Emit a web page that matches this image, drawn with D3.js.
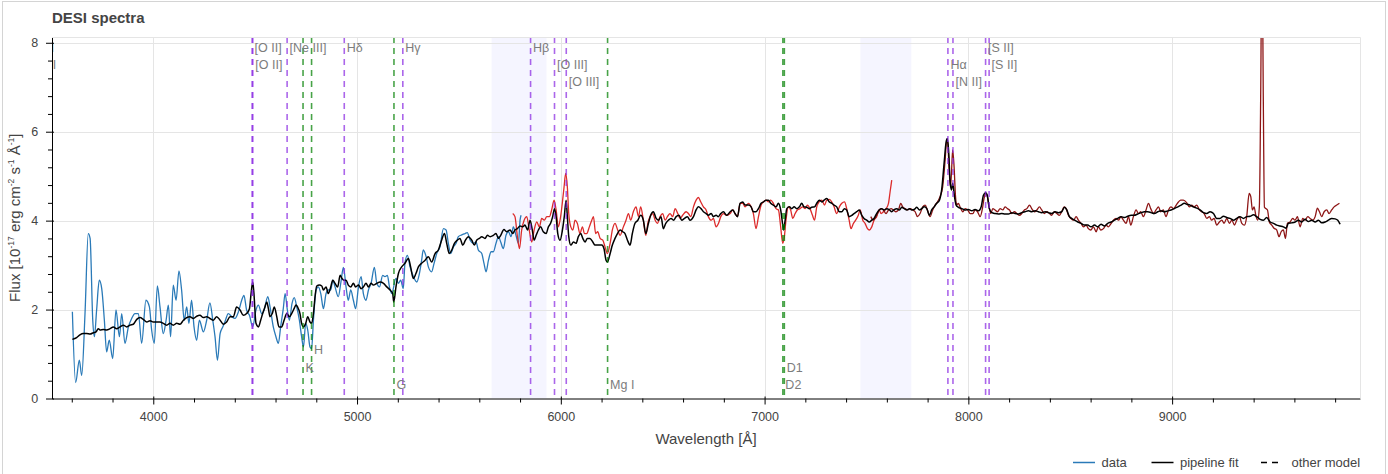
<!DOCTYPE html>
<html><head><meta charset="utf-8">
<script src="https://cdn.jsdelivr.net/npm/d3@7"></script>
<style>
body{margin:0;background:#fff;}
svg{display:block;font-family:Helvetica,Arial,"Liberation Sans",sans-serif;}
</style>
</head><body>
<svg id="chart" width="1388" height="474"></svg>
<script>
// ---------------- DATA ----------------
const titleText = "DESI spectra";
const xLabelText = "Wavelength [Å]";
const xDomain = [3503, 9922];
const yDomain = [0, 8.13];
const xMajor = [4000, 5000, 6000, 7000, 8000, 9000];
const xMinor = [3600,3800,4200,4400,4600,4800,5200,5400,5600,5800,6200,6400,6600,6800,7200,7400,7600,7800,8200,8400,8600,8800,9200,9400,9600,9800];
const yMajor = [0, 2, 4, 6, 8];
const yMinor = [0.4,0.8,1.2,1.6,2.4,2.8,3.2,3.6,4.4,4.8,5.2,5.6,6.4,6.8,7.2,7.6];
const redshift = 0.2037;
const bandStart = [5660, 7470];
const bandEnd = [5930, 7720];
const legendNames = ["data", "pipeline fit", "other model"];

// spectral lines: name, rest wavelength, kind (em/abs), label row
const lineNames = ["Mg II","Mg II","[O II]","[O II]","[Ne III]","K","H","Hδ","G","Hγ","Hβ","[O III]","[O III]","Mg I","D2","D1","Hα","[N II]","[S II]","[S II]"];
const lineRest  = [2796.35,2803.53,3726.03,3728.82,3868.76,3933.66,3968.47,4101.73,4304.4,4340.46,4861.33,4958.91,5006.84,5175.3,5889.95,5895.92,6562.80,6583.45,6716.44,6730.82];
const lineKind  = ["em","em","em","em","em","abs","abs","em","abs","em","em","em","em","abs","abs","abs","em","em","em","em"];
const lineRow   = [1,2,1,2,1,2,1,1,3,1,1,2,3,3,3,2,2,3,1,2];

// b arm data [wavelength, flux]
const bData = [[3603,1.95],[3619,0.36],[3637,0.86],[3649,0.52],[3665,1.91],[3681,3.71],[3690,3.60],[3703,1.76],[3711,1.39],[3722,1.99],[3735,2.66],[3747,2.47],[3760,1.76],[3771,1.05],[3784,1.31],[3801,0.90],[3817,1.99],[3834,1.39],[3845,1.91],[3861,1.24],[3878,1.61],[3894,1.80],[3910,1.91],[3927,1.91],[3943,1.24],[3964,2.21],[3981,2.06],[3992,1.54],[4005,1.24],[4020,2.53],[4033,2.06],[4049,1.46],[4063,1.76],[4074,2.10],[4085,1.39],[4098,2.55],[4112,2.21],[4126,2.87],[4139,2.44],[4152,1.76],[4164,2.06],[4175,1.69],[4188,2.21],[4200,1.61],[4213,1.31],[4226,1.76],[4246,1.50],[4262,1.76],[4278,2.15],[4292,1.76],[4303,1.39],[4315,0.86],[4328,1.46],[4341,1.61],[4352,1.73],[4368,1.91],[4385,1.84],[4401,1.80],[4418,1.95],[4434,2.21],[4445,2.32],[4458,1.99],[4472,1.87],[4488,1.61],[4504,1.99],[4516,2.10],[4532,1.91],[4544,1.99],[4562,2.29],[4573,2.06],[4589,1.61],[4602,1.39],[4614,1.24],[4625,1.61],[4638,2.02],[4647,2.36],[4658,1.99],[4668,1.76],[4681,2.14],[4692,2.27],[4704,2.06],[4717,1.76],[4728,1.39],[4737,1.16],[4748,1.69],[4758,1.54],[4769,1.16],[4777,1.12],[4786,1.76],[4799,2.44],[4810,2.51],[4822,2.36],[4835,2.02],[4848,2.36],[4859,2.44],[4871,2.44],[4881,2.66],[4892,2.51],[4908,2.29],[4921,2.62],[4933,2.95],[4946,2.51],[4957,2.21],[4969,2.44],[4982,2.21],[4993,2.02],[5007,2.51],[5020,2.74],[5031,2.36],[5044,2.21],[5056,2.44],[5069,2.59],[5085,2.95],[5097,2.59],[5110,2.51],[5126,2.77],[5137,2.74],[5149,2.77],[5159,2.51],[5170,2.36],[5191,2.70],[5203,2.59],[5214,2.66],[5227,2.47],[5235,3.04],[5247,3.22],[5260,2.96],[5277,2.74],[5293,2.62],[5306,2.81],[5317,3.11],[5325,3.34],[5339,3.19],[5350,2.96],[5366,2.85],[5378,3.04],[5391,3.26],[5407,3.41],[5424,3.82],[5437,3.79],[5448,3.49],[5460,3.26],[5473,3.41],[5486,3.49],[5497,3.64],[5514,3.68],[5530,3.71],[5541,3.73],[5555,3.56],[5571,3.49],[5584,3.52],[5595,3.34],[5612,3.26],[5623,3.04],[5633,2.85],[5645,3.11],[5658,3.30],[5669,3.30],[5682,3.49],[5694,3.64],[5705,3.52],[5718,3.37],[5731,3.67],[5743,3.75],[5756,3.64],[5767,3.86],[5780,3.67],[5792,3.49],[5800,4.01],[5805,4.12]];

// r arm data
const rData = [[5764,4.16],[5775,4.09],[5787,3.64],[5797,3.37],[5808,3.79],[5820,4.01],[5833,4.09],[5844,3.82],[5857,3.52],[5869,3.79],[5882,3.97],[5895,3.86],[5906,4.05],[5919,4.01],[5931,4.09],[5944,4.09],[5955,4.24],[5967,4.46],[5977,4.24],[5988,3.86],[5999,4.09],[6009,4.46],[6016,4.76],[6024,5.06],[6032,4.76],[6039,4.16],[6049,3.86],[6059,3.79],[6070,4.01],[6081,3.94],[6094,3.71],[6106,3.86],[6116,3.71],[6127,3.71],[6140,3.86],[6152,4.01],[6160,4.09],[6171,3.71],[6181,3.75],[6193,3.60],[6206,3.56],[6217,3.41],[6229,3.26],[6242,3.49],[6253,3.79],[6266,3.94],[6279,3.79],[6291,3.67],[6307,3.86],[6320,4.01],[6332,4.16],[6343,4.01],[6356,4.20],[6369,4.31],[6381,4.09],[6392,4.31],[6405,4.01],[6417,3.67],[6427,3.94],[6438,4.09],[6451,4.16],[6463,4.01],[6474,3.94],[6487,4.09],[6500,4.16],[6512,4.01],[6523,4.09],[6536,4.16],[6549,4.09],[6561,4.27],[6574,4.16],[6585,4.05],[6598,4.12],[6615,4.20],[6626,4.16],[6638,4.09],[6651,4.31],[6664,4.46],[6675,4.52],[6687,4.42],[6700,4.31],[6713,4.24],[6724,4.09],[6738,4.01],[6749,4.05],[6762,3.86],[6774,3.94],[6785,4.09],[6798,4.16],[6814,4.12],[6831,4.16],[6844,4.24],[6855,4.16],[6867,4.09],[6880,4.39],[6893,4.39],[6904,4.31],[6921,4.39],[6934,4.31],[6945,4.16],[6958,3.82],[6970,4.09],[6983,4.35],[6994,4.42],[7007,4.46],[7019,4.42],[7030,4.46],[7043,4.39],[7056,4.27],[7068,4.24],[7079,3.86],[7089,3.49],[7097,3.64],[7105,4.01],[7117,4.31],[7128,4.24],[7138,4.05],[7150,4.16],[7161,4.24],[7174,4.27],[7187,4.31],[7199,4.27],[7210,4.35],[7223,4.27],[7235,4.12],[7245,4.01],[7256,4.31],[7267,4.42],[7281,4.46],[7294,4.35],[7305,4.46],[7318,4.48],[7330,4.42],[7341,4.31],[7354,4.16],[7367,4.31],[7379,4.39],[7392,4.42],[7403,4.27],[7415,4.01],[7424,3.82],[7436,3.94],[7447,4.01],[7460,4.12],[7469,4.24],[7482,4.01],[7493,3.94],[7505,3.82],[7514,3.79],[7526,3.86],[7537,4.01],[7550,4.09],[7562,4.24],[7572,4.16],[7583,4.20],[7596,4.27],[7608,4.39],[7616,4.65],[7624,4.91]];

// z arm data
const zData = [[7521,4.09],[7534,4.01],[7547,4.09],[7559,4.20],[7570,4.27],[7583,4.24],[7596,4.16],[7608,4.24],[7621,4.27],[7632,4.24],[7645,4.20],[7657,4.24],[7668,4.39],[7678,4.31],[7690,4.27],[7703,4.24],[7714,4.27],[7727,4.24],[7739,4.20],[7750,4.09],[7763,4.16],[7776,4.31],[7788,4.35],[7799,4.24],[7812,4.09],[7825,4.24],[7837,4.35],[7848,4.42],[7861,4.54],[7874,4.76],[7886,5.36],[7894,5.81],[7899,5.74],[7905,5.21],[7912,4.76],[7917,5.06],[7923,5.59],[7930,5.21],[7937,4.54],[7943,4.35],[7951,4.39],[7959,4.31],[7973,4.20],[7984,4.27],[7997,4.24],[8009,4.16],[8022,4.16],[8033,4.24],[8045,4.20],[8058,4.09],[8069,4.27],[8077,4.50],[8085,4.61],[8093,4.54],[8102,4.31],[8110,4.16],[8120,4.27],[8131,4.24],[8143,4.20],[8156,4.27],[8169,4.24],[8180,4.31],[8192,4.27],[8202,4.24],[8213,4.16],[8226,4.20],[8238,4.16],[8251,4.12],[8262,4.16],[8275,4.24],[8287,4.27],[8300,4.35],[8311,4.27],[8324,4.20],[8336,4.24],[8349,4.31],[8360,4.24],[8373,4.16],[8385,4.20],[8398,4.16],[8409,4.12],[8422,4.20],[8434,4.16],[8447,4.12],[8458,4.20],[8470,4.31],[8480,4.27],[8491,4.12],[8503,4.05],[8516,4.01],[8529,4.09],[8540,4.01],[8553,3.94],[8565,3.86],[8578,3.90],[8589,3.82],[8601,3.79],[8614,3.86],[8627,3.75],[8638,3.86],[8650,3.79],[8663,3.82],[8676,3.90],[8687,3.86],[8701,3.94],[8712,4.01],[8725,4.05],[8737,4.01],[8748,4.09],[8761,4.01],[8774,3.94],[8786,4.09],[8797,3.90],[8810,4.09],[8823,4.24],[8835,4.16],[8846,4.20],[8859,4.09],[8872,4.24],[8884,4.39],[8895,4.27],[8908,4.16],[8921,4.24],[8933,4.31],[8944,4.20],[8957,4.24],[8970,4.09],[8982,4.24],[8994,4.31],[9007,4.27],[9020,4.35],[9031,4.42],[9042,4.46],[9055,4.46],[9072,4.40],[9085,4.31],[9096,4.35],[9108,4.31],[9121,4.35],[9134,4.24],[9145,4.20],[9157,4.16],[9170,4.05],[9183,4.09],[9194,4.01],[9206,4.05],[9219,3.90],[9232,3.97],[9244,4.01],[9255,3.94],[9268,4.05],[9281,3.94],[9293,4.01],[9306,3.90],[9317,4.01],[9330,4.09],[9342,3.94],[9355,3.90],[9366,4.09],[9378,4.61],[9386,4.54],[9394,4.24],[9402,4.31],[9412,4.09],[9420,4.01],[9428,4.31],[9435,7.01],[9441,10.5],[9447,7.0],[9453,4.3],[9468,4.24],[9477,3.97],[9489,3.90],[9500,3.83],[9513,3.79],[9525,3.64],[9535,3.75],[9546,3.79],[9556,3.60],[9566,3.94],[9579,3.97],[9592,4.05],[9603,4.01],[9615,4.09],[9628,3.86],[9641,4.05],[9652,4.01],[9666,4.09],[9677,4.05],[9690,4.01],[9702,4.09],[9713,4.28],[9723,4.20],[9734,4.09],[9746,4.20],[9759,4.24],[9770,4.16],[9783,4.24],[9795,4.31],[9808,4.35],[9821,4.39]];

// pipeline fit
const fitData = [[3603,1.33],[3624,1.37],[3640,1.43],[3657,1.46],[3673,1.46],[3690,1.45],[3706,1.48],[3719,1.50],[3730,1.57],[3739,1.54],[3755,1.55],[3771,1.54],[3788,1.57],[3804,1.61],[3820,1.57],[3837,1.61],[3853,1.65],[3870,1.61],[3886,1.65],[3902,1.67],[3919,1.78],[3935,1.82],[3951,1.78],[3968,1.72],[3984,1.75],[4000,1.72],[4017,1.72],[4033,1.72],[4049,1.69],[4066,1.65],[4082,1.69],[4098,1.65],[4115,1.69],[4131,1.67],[4148,1.76],[4164,1.82],[4180,1.84],[4197,1.80],[4213,1.85],[4229,1.87],[4246,1.82],[4262,1.84],[4278,1.80],[4295,1.76],[4311,1.84],[4328,1.76],[4344,1.67],[4360,1.72],[4377,1.84],[4393,1.84],[4409,2.06],[4426,1.99],[4442,1.87],[4458,1.91],[4472,2.02],[4480,2.36],[4488,2.62],[4494,2.36],[4504,1.69],[4516,1.61],[4527,1.76],[4537,1.91],[4548,2.06],[4557,2.17],[4565,2.02],[4573,1.84],[4584,1.91],[4594,2.06],[4606,1.84],[4617,1.61],[4630,1.61],[4642,1.76],[4655,1.91],[4668,1.84],[4679,1.91],[4691,2.02],[4700,2.10],[4712,2.02],[4720,1.91],[4728,1.69],[4737,1.61],[4748,1.69],[4758,1.84],[4769,1.72],[4777,1.69],[4786,1.91],[4794,2.29],[4802,2.53],[4815,2.55],[4827,2.53],[4835,2.44],[4848,2.51],[4859,2.36],[4871,2.51],[4881,2.66],[4892,2.59],[4905,2.51],[4917,2.77],[4926,2.70],[4936,2.66],[4946,2.66],[4957,2.55],[4969,2.51],[4982,2.59],[4993,2.51],[5007,2.55],[5020,2.47],[5031,2.51],[5044,2.59],[5056,2.51],[5069,2.59],[5080,2.55],[5097,2.59],[5113,2.62],[5130,2.59],[5146,2.51],[5162,2.44],[5175,2.36],[5180,2.17],[5191,2.51],[5203,2.81],[5219,2.96],[5235,3.04],[5252,3.15],[5263,2.96],[5276,2.70],[5289,2.81],[5301,2.96],[5317,3.04],[5334,3.11],[5350,3.19],[5366,3.07],[5383,3.26],[5399,3.34],[5415,3.56],[5429,3.71],[5440,3.49],[5453,3.26],[5465,3.34],[5478,3.49],[5492,3.56],[5505,3.60],[5519,3.45],[5532,3.56],[5546,3.64],[5563,3.56],[5576,3.45],[5587,3.56],[5600,3.60],[5612,3.64],[5628,3.60],[5640,3.67],[5653,3.64],[5669,3.67],[5682,3.71],[5694,3.60],[5705,3.67],[5721,3.80],[5734,3.75],[5751,3.79],[5764,3.71],[5775,3.79],[5787,3.82],[5800,3.88],[5813,3.86],[5824,3.90],[5837,3.79],[5849,4.01],[5860,3.79],[5869,3.56],[5879,3.67],[5890,3.79],[5901,3.86],[5914,3.75],[5928,3.71],[5939,3.86],[5950,3.94],[5960,4.09],[5969,4.27],[5977,4.09],[5985,3.71],[5996,3.56],[6008,3.79],[6017,4.09],[6026,4.46],[6032,4.09],[6039,3.64],[6049,3.45],[6062,3.52],[6075,3.49],[6086,3.64],[6098,3.71],[6108,3.60],[6119,3.52],[6130,3.60],[6143,3.60],[6157,3.52],[6168,3.45],[6184,3.45],[6201,3.45],[6212,3.37],[6222,3.11],[6229,3.07],[6242,3.26],[6253,3.45],[6266,3.60],[6278,3.71],[6291,3.79],[6304,3.75],[6315,3.71],[6327,3.56],[6340,3.45],[6351,3.71],[6364,3.94],[6378,4.01],[6392,4.12],[6405,4.01],[6417,3.71],[6430,3.94],[6441,4.12],[6454,4.20],[6468,4.05],[6479,4.01],[6492,4.09],[6503,3.82],[6515,3.94],[6528,4.01],[6541,4.05],[6553,4.01],[6566,4.09],[6580,4.12],[6593,4.01],[6607,4.05],[6621,4.09],[6634,4.01],[6651,4.09],[6664,4.24],[6675,4.31],[6688,4.27],[6700,4.20],[6713,4.16],[6724,4.12],[6738,4.16],[6749,4.09],[6762,4.12],[6773,4.09],[6785,4.16],[6798,4.20],[6814,4.12],[6831,4.20],[6844,4.24],[6855,4.16],[6867,4.09],[6880,4.39],[6893,4.42],[6904,4.35],[6921,4.35],[6934,4.31],[6945,4.20],[6958,4.20],[6970,4.27],[6983,4.39],[6994,4.42],[7007,4.46],[7019,4.46],[7030,4.39],[7043,4.35],[7056,4.31],[7068,4.39],[7079,4.24],[7088,3.94],[7093,3.79],[7101,4.01],[7109,4.27],[7122,4.31],[7133,4.27],[7145,4.31],[7158,4.27],[7171,4.31],[7182,4.39],[7194,4.31],[7207,4.30],[7220,4.27],[7231,4.30],[7245,4.31],[7256,4.39],[7269,4.46],[7281,4.42],[7292,4.46],[7305,4.50],[7318,4.42],[7330,4.39],[7341,4.35],[7354,4.31],[7367,4.20],[7379,4.20],[7392,4.27],[7403,4.24],[7415,4.09],[7428,4.12],[7439,4.16],[7452,4.20],[7465,4.24],[7477,4.12],[7488,4.05],[7501,4.01],[7514,3.97],[7526,4.01],[7537,4.05],[7550,4.16],[7562,4.24],[7575,4.27],[7586,4.24],[7600,4.27],[7613,4.24],[7624,4.20],[7636,4.25],[7649,4.27],[7662,4.24],[7673,4.30],[7685,4.27],[7698,4.24],[7711,4.27],[7722,4.24],[7734,4.25],[7747,4.30],[7760,4.24],[7771,4.27],[7783,4.31],[7796,4.27],[7809,4.12],[7820,4.24],[7832,4.31],[7845,4.39],[7858,4.46],[7869,4.69],[7881,5.29],[7891,5.77],[7897,5.85],[7904,5.51],[7910,4.91],[7917,4.69],[7923,4.84],[7932,4.54],[7940,4.35],[7951,4.30],[7968,4.27],[7984,4.24],[8000,4.25],[8017,4.22],[8033,4.25],[8050,4.22],[8063,4.31],[8074,4.57],[8085,4.63],[8093,4.57],[8103,4.27],[8115,4.18],[8131,4.16],[8148,4.15],[8164,4.16],[8180,4.15],[8197,4.15],[8213,4.18],[8229,4.16],[8246,4.15],[8262,4.18],[8278,4.20],[8295,4.22],[8311,4.20],[8328,4.22],[8344,4.20],[8360,4.18],[8377,4.20],[8393,4.18],[8409,4.16],[8426,4.20],[8442,4.18],[8458,4.20],[8472,4.30],[8483,4.24],[8496,4.09],[8507,4.05],[8521,4.01],[8537,3.97],[8553,3.94],[8570,3.90],[8586,3.90],[8602,3.86],[8619,3.90],[8635,3.86],[8651,3.92],[8668,3.88],[8684,3.94],[8701,3.97],[8717,4.01],[8733,4.05],[8750,4.09],[8766,4.07],[8782,4.10],[8799,4.12],[8815,4.12],[8831,4.15],[8848,4.18],[8864,4.20],[8881,4.20],[8897,4.18],[8913,4.16],[8930,4.20],[8946,4.22],[8962,4.20],[8979,4.22],[8995,4.24],[9011,4.27],[9028,4.31],[9044,4.35],[9060,4.39],[9072,4.37],[9088,4.35],[9104,4.31],[9121,4.28],[9137,4.24],[9154,4.18],[9170,4.16],[9186,4.20],[9203,4.16],[9219,4.05],[9235,4.05],[9252,4.10],[9268,4.07],[9284,4.05],[9301,4.01],[9317,4.05],[9333,4.09],[9350,4.05],[9366,4.09],[9383,4.10],[9399,4.13],[9415,4.09],[9432,4.03],[9448,4.01],[9464,4.07],[9481,3.97],[9497,3.94],[9513,3.90],[9530,3.88],[9546,3.86],[9559,3.83],[9571,3.94],[9587,3.95],[9604,3.97],[9620,4.01],[9636,3.97],[9652,4.03],[9669,3.98],[9685,4.01],[9702,3.97],[9718,4.01],[9734,3.95],[9751,3.97],[9767,4.01],[9783,4.05],[9800,4.04],[9813,4.01],[9824,3.92]];

// ---------------- DRAWING ----------------
const frame = {left: 52, top: 37, right: 1360, bottom: 398.5};
const svg = d3.select("#chart");
const x = d3.scaleLinear().domain(xDomain).range([frame.left, frame.right]);
const y = d3.scaleLinear().domain(yDomain).range([frame.bottom, frame.top]);

const colB = "#2a7ab8", colR = "#dc2b2b", colZ = "#8e1616";
const colEm = "#8a2be2", colAbs = "#008000";
const textCol = "#444";

// outer figure border
svg.append("rect").attr("x", 2.5).attr("y", 1.5).attr("width", 1383).attr("height", 490)
  .attr("fill", "none").attr("stroke", "#d4d4d4").attr("stroke-width", 1);

// title
svg.append("text").attr("x", 52).attr("y", 22.7).text(titleText)
  .attr("font-size", 15).attr("font-weight", "bold").attr("fill", textCol);

// clip
svg.append("defs").append("clipPath").attr("id", "frameclip").append("rect")
  .attr("x", frame.left).attr("y", frame.top)
  .attr("width", frame.right - frame.left).attr("height", frame.bottom - frame.top);

const plot = svg.append("g").attr("clip-path", "url(#frameclip)");

// overlap bands
plot.selectAll("rect.band").data(bandStart.map((s, i) => [s, bandEnd[i]])).join("rect")
  .attr("class", "band")
  .attr("x", d => x(d[0])).attr("width", d => x(d[1]) - x(d[0]))
  .attr("y", frame.top).attr("height", frame.bottom - frame.top)
  .attr("fill", "#0000ff").attr("fill-opacity", 0.04);

// grid
plot.selectAll("line.gx").data(xMajor).join("line").attr("class", "gx")
  .attr("x1", d => Math.round(x(d)) + 0.5).attr("x2", d => Math.round(x(d)) + 0.5)
  .attr("y1", frame.top).attr("y2", frame.bottom)
  .attr("stroke", "#e5e5e5").attr("stroke-width", 1);
plot.selectAll("line.gy").data(yMajor.filter(v => v > 0)).join("line").attr("class", "gy")
  .attr("y1", d => Math.round(y(d)) + 0.5).attr("y2", d => Math.round(y(d)) + 0.5)
  .attr("x1", frame.left).attr("x2", frame.right)
  .attr("stroke", "#e5e5e5").attr("stroke-width", 1);

// spectra
const line = d3.line().x(d => x(d[0])).y(d => y(d[1])).curve(d3.curveMonotoneX);
[[bData, colB], [rData, colR], [zData, colZ]].forEach(([data, c]) => {
  plot.append("path").datum(data).attr("d", line)
    .attr("fill", "none").attr("stroke", c).attr("stroke-width", 1.3).attr("stroke-linejoin", "round");
});
plot.append("path").datum(fitData).attr("d", line)
  .attr("fill", "none").attr("stroke", "#000").attr("stroke-width", 1.5).attr("stroke-linejoin", "round");

// spectral lines
const lines = lineNames.map((n, i) => ({name: n, obs: lineRest[i] * (1 + redshift), kind: lineKind[i], row: lineRow[i]}));
plot.selectAll("line.sl").data(lines).join("line").attr("class", "sl")
  .attr("x1", d => x(d.obs)).attr("x2", d => x(d.obs))
  .attr("y1", frame.top).attr("y2", frame.bottom)
  .attr("stroke", d => d.kind === "em" ? colEm : colAbs)
  .attr("stroke-opacity", 0.72).attr("stroke-width", 1.6)
  .attr("stroke-dasharray", "6,5");

const topRows = [0, 15, 32, 49];
const botRows = [0, 44.5, 27, 9.5];
plot.selectAll("text.sl").data(lines).join("text").attr("class", "sl")
  .attr("x", d => x(d.obs) + 2.5)
  .attr("y", d => d.kind === "em" ? frame.top + topRows[d.row] : frame.bottom - botRows[d.row])
  .attr("font-size", 12.5).attr("fill", "#7c7c7c")
  .text(d => d.name);

// axes
const axX = svg.append("g").attr("transform", `translate(0,${frame.bottom})`)
  .call(d3.axisBottom(x).tickValues(xMajor).tickSizeInner(6).tickSizeOuter(0).tickFormat(d3.format("d")));
axX.select(".domain").attr("stroke", "#000");
axX.selectAll(".tick line").attr("y1", -2).attr("y2", 6).attr("stroke", "#000");
axX.selectAll(".tick text").attr("y", 22.2).attr("dy", 0).attr("font-size", 12.5)
  .attr("fill", textCol).attr("font-family", "Helvetica,Arial,'Liberation Sans',sans-serif");
const axXm = svg.append("g").attr("transform", `translate(0,${frame.bottom})`)
  .call(d3.axisBottom(x).tickValues(xMinor).tickSize(4).tickFormat(""));
axXm.select(".domain").remove();
axXm.selectAll(".tick line").attr("stroke", "#000");

const axY = svg.append("g").attr("transform", `translate(${frame.left},0)`)
  .call(d3.axisLeft(y).tickValues(yMajor).tickSizeInner(6).tickSizeOuter(0).tickFormat(d3.format("d")));
axY.select(".domain").attr("stroke", "#000");
axY.selectAll(".tick line").attr("x1", 2).attr("x2", -6).attr("stroke", "#000");
axY.selectAll(".tick text").attr("x", -13.7).attr("font-size", 12.5)
  .attr("fill", textCol).attr("font-family", "Helvetica,Arial,'Liberation Sans',sans-serif");
const axYm = svg.append("g").attr("transform", `translate(${frame.left},0)`)
  .call(d3.axisLeft(y).tickValues(yMinor).tickSize(4).tickFormat(""));
axYm.select(".domain").remove();
axYm.selectAll(".tick line").attr("stroke", "#000");

// frame outline (top/right)
svg.append("path")
  .attr("d", `M${frame.left},${frame.top + 0.5}H${frame.right + 0.5}V${frame.bottom}`)
  .attr("fill", "none").attr("stroke", "#e5e5e5");

// axis labels
svg.append("text").attr("x", (frame.left + frame.right) / 2).attr("y", 444)
  .attr("text-anchor", "middle").attr("font-size", 15).attr("fill", textCol).text(xLabelText);

const yl = svg.append("text").attr("transform", `translate(19.5,${(frame.top + frame.bottom) / 2}) rotate(-90)`)
  .attr("text-anchor", "middle").attr("font-size", 15).attr("fill", textCol);
const ySegs = [["Flux [10", false], ["-17", true], [" erg cm", false], ["-2", true], [" s", false], ["-1", true], [" Å", false], ["-1", true], ["]", false]];
let prevSup = false;
ySegs.forEach(([t, sup]) => {
  const ts = yl.append("tspan").text(t);
  if (sup) { ts.attr("font-size", 8.5).attr("dy", prevSup ? 0 : -6); }
  else { ts.attr("dy", prevSup ? 6 : 0); }
  prevSup = sup;
});

// legend
const legY = 462.5;
const legItems = [
  {name: legendNames[0], x0: 1073, x1: 1095, tx: 1101.5, color: colB, dash: null},
  {name: legendNames[1], x0: 1151.5, x1: 1173.5, tx: 1180, color: "#000", dash: null},
  {name: legendNames[2], x0: 1261, x1: 1281, tx: 1291.5, color: "#000", dash: "6,5"}
];
const lg = svg.append("g");
legItems.forEach(it => {
  const l = lg.append("line").attr("x1", it.x0).attr("x2", it.x1).attr("y1", legY).attr("y2", legY)
    .attr("stroke", it.color).attr("stroke-width", 1.5);
  if (it.dash) l.attr("stroke-dasharray", it.dash);
  lg.append("text").attr("x", it.tx).attr("y", legY + 4.5).attr("font-size", 13)
    .attr("fill", textCol).text(it.name);
});
</script>
</body></html>
